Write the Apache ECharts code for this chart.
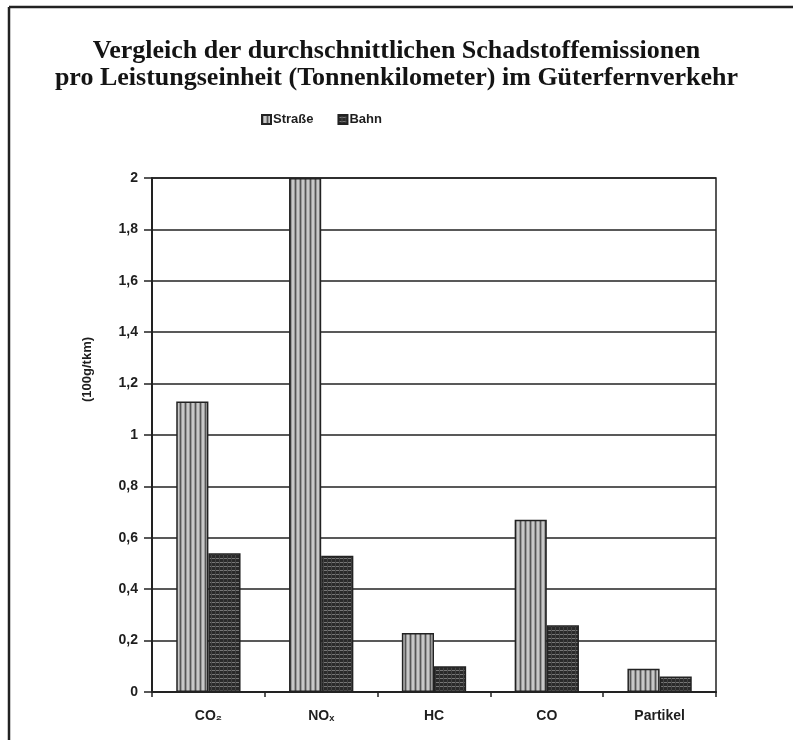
<!DOCTYPE html>
<html><head><meta charset="utf-8">
<script src="https://cdn.jsdelivr.net/npm/echarts@6/dist/echarts.min.js"></script>
<style>html,body{margin:0;padding:0;background:#fff}#c{width:793px;height:740px}</style>
</head><body><div id="c"></div>
<script>
var categories = ['CO\u2082', 'NO\u2093', 'HC', 'CO', 'Partikel'];
var strasse = [1.13, 2.0, 0.23, 0.67, 0.09];
var bahn = [0.54, 0.53, 0.10, 0.26, 0.06];
var seriesNames = ['Straße', 'Bahn'];
var titleLines = ['Vergleich der durchschnittlichen Schadstoffemissionen', 'pro Leistungseinheit (Tonnenkilometer) im Güterfernverkehr'];
var yName = '(100g/tkm)';

function stripePattern() {
  var c = document.createElement('canvas'); c.width = 5; c.height = 4;
  var g = c.getContext('2d');
  g.fillStyle = '#9a9a9a'; g.fillRect(0, 0, 5, 4);
  g.fillStyle = '#555555'; g.fillRect(0, 0, 1, 4);
  g.fillStyle = '#c8c8c8'; g.fillRect(2, 0, 2, 4);
  return c;
}
function gridPattern() {
  var c = document.createElement('canvas'); c.width = 4; c.height = 4;
  var g = c.getContext('2d');
  g.fillStyle = '#2a2a2a'; g.fillRect(0, 0, 4, 4);
  g.fillStyle = '#777777'; g.fillRect(0, 2, 3, 1);
  g.fillStyle = '#444444'; g.fillRect(3, 0, 1, 4);
  return c;
}
var pStr = {image: stripePattern(), repeat: 'repeat'};
var pBahn = {image: gridPattern(), repeat: 'repeat'};

var chart = echarts.init(document.getElementById('c'), null, {renderer: 'canvas'});
var lab = {fontFamily: 'Liberation Sans', fontWeight: 'bold', fontSize: 14, color: '#1e1e1e'};
chart.setOption({
  backgroundColor: '#fff',
  animation: false,
  title: {
    text: titleLines.join('\n'), left: 'center', top: 33,
    textStyle: {fontFamily: 'Liberation Serif', fontWeight: 'bold', fontSize: 26, lineHeight: 27, color: '#141414'}
  },
  legend: {
    data: seriesNames, top: 108, left: 256, itemGap: 24, itemWidth: 9, itemHeight: 9,
    icon: 'rect',
    textStyle: {fontFamily: 'Liberation Sans', fontWeight: 'bold', fontSize: 13, color: '#1e1e1e', padding: [0, 0, 0, -3]}
  },
  grid: {left: 152, right: 77, top: 178, bottom: 48, show: true, borderColor: '#222', borderWidth: 1.5, backgroundColor: 'transparent'},
  xAxis: {
    type: 'category', data: categories,
    axisLine: {lineStyle: {color: '#222', width: 2}},
    axisTick: {show: true, length: 5, inside: false, lineStyle: {color: '#222', width: 1.5}},
    axisLabel: Object.assign({margin: 17}, lab)
  },
  yAxis: {
    type: 'value', min: 0, max: 2, interval: 0.2,
    axisLine: {show: true, lineStyle: {color: '#222', width: 2}},
    axisTick: {show: true, length: 8, lineStyle: {color: '#222', width: 1.5}},
    axisLabel: Object.assign({margin: 14, formatter: function (v) { return String(Math.round(v * 10) / 10).replace('.', ','); }}, lab),
    splitLine: {show: true, lineStyle: {color: '#222', width: 1.5}}
  },
  graphic: [
    {type: 'text', rotation: Math.PI / 2, x: 81, y: 402,
     style: {text: yName, fontFamily: 'Liberation Sans', fontWeight: 'bold', fontSize: 13, fill: '#1e1e1e'}},
    {type: 'line', shape: {x1: 9, y1: 7, x2: 793, y2: 7}, style: {stroke: '#222', lineWidth: 2.5}},
    {type: 'line', shape: {x1: 9, y1: 7, x2: 9, y2: 740}, style: {stroke: '#222', lineWidth: 2.5}}
  ],
  series: [
    {name: seriesNames[0], type: 'bar', data: strasse, barGap: '0%', barCategoryGap: '43%',
     itemStyle: {color: pStr, borderColor: '#222', borderWidth: 1.5}},
    {name: seriesNames[1], type: 'bar', data: bahn,
     itemStyle: {color: pBahn, borderColor: '#222', borderWidth: 1.5}}
  ]
});
</script></body></html>
